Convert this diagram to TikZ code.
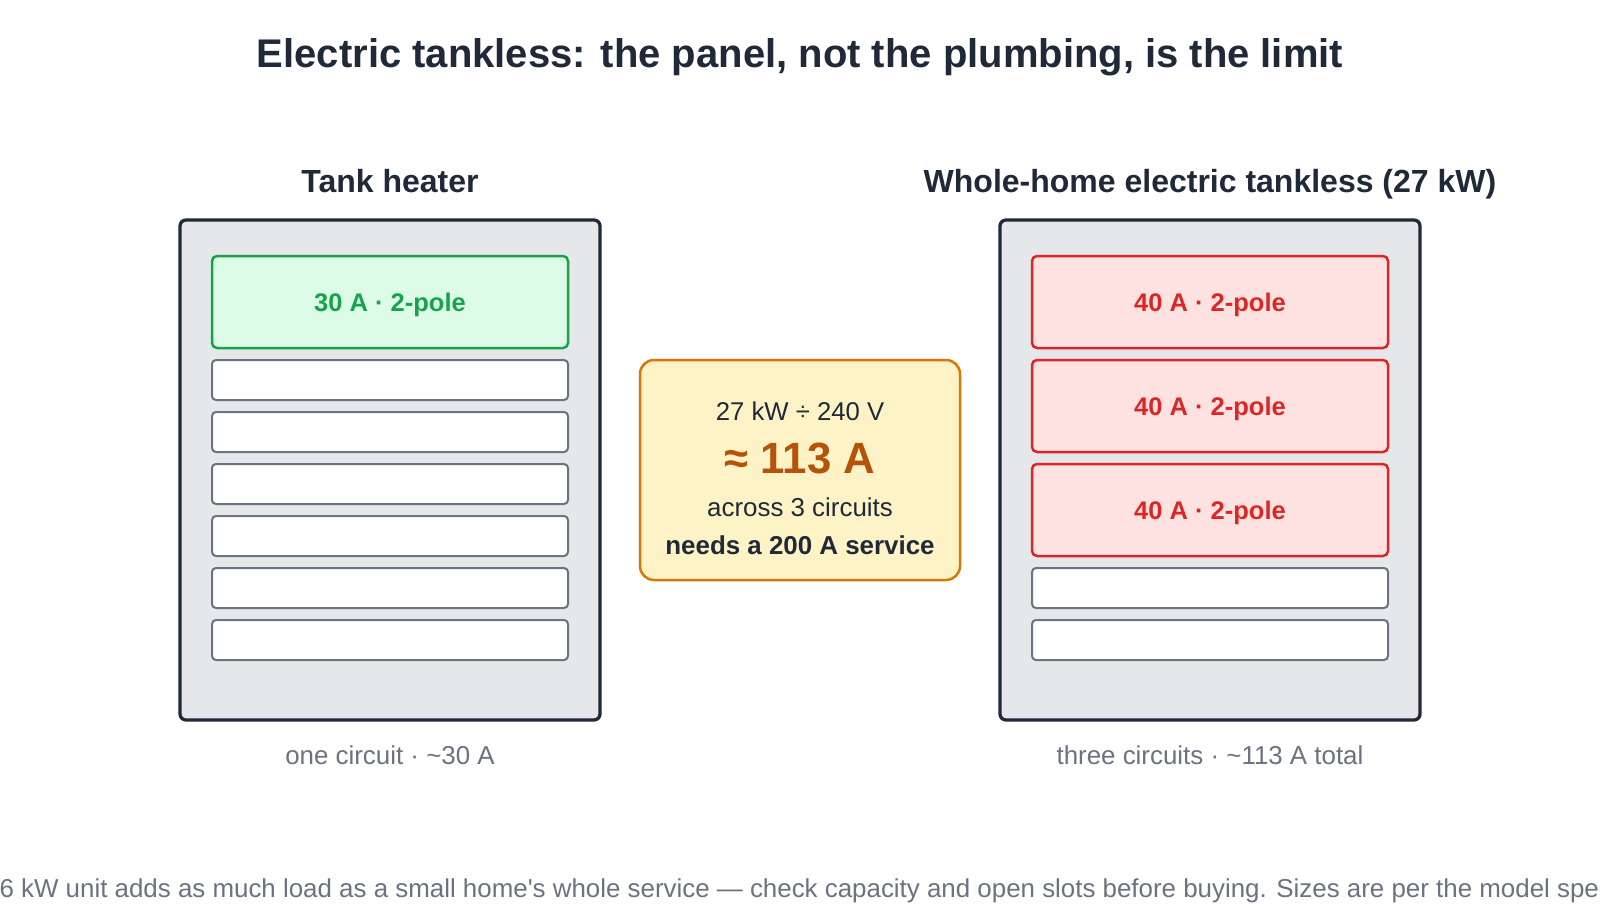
\documentclass[tikz,border=0pt]{standalone}
\usepackage{fontspec}
\setmainfont{Liberation Sans}
\definecolor{ink}{HTML}{1F2937}
\definecolor{panelgray}{HTML}{E5E7EB}
\definecolor{slotline}{HTML}{6B7280}
\definecolor{okline}{HTML}{16A34A}
\definecolor{okfill}{HTML}{DCFCE7}
\definecolor{hotline}{HTML}{DC2626}
\definecolor{hotfill}{HTML}{FEE2E2}
\definecolor{calcline}{HTML}{D97706}
\definecolor{calcfill}{HTML}{FEF3C7}
\definecolor{calctext}{HTML}{B45309}
\tikzset{
  panel/.style={draw=ink, line width=3.3pt, fill=panelgray, rounded corners=6pt,
    minimum width=420pt, minimum height=500pt, inner sep=0pt},
  slot/.style={draw=slotline, line width=2pt, fill=white, rounded corners=4pt,
    minimum width=356pt, minimum height=40pt, inner sep=0pt},
  okpole/.style={draw=okline, line width=2.5pt, fill=okfill, text=okline, rounded corners=5pt,
    minimum width=356pt, minimum height=92pt, inner sep=0pt, text depth=0pt,
    font=\bfseries\fontsize{25.5}{30}\selectfont},
  hotpole/.style={okpole, draw=hotline, fill=hotfill, text=hotline},
  calcbox/.style={draw=calcline, line width=2.5pt, fill=calcfill, rounded corners=14pt,
    minimum width=320pt, minimum height=220pt, inner sep=0pt},
  heading/.style={anchor=base, text=ink, font=\bfseries\fontsize{32}{38}\selectfont},
  caption/.style={anchor=base, text=slotline, font=\fontsize{25.9}{30}\selectfont},
}
\begin{document}
\begin{tikzpicture}[x=1pt, y=-1pt]
  \useasboundingbox (0,0) rectangle (1600,920);
  \fill[white] (0,0) rectangle (1600,920);
  \clip (0,0) rectangle (1600,920);

  \node[anchor=base, text=ink, font=\bfseries\fontsize{40}{48}\selectfont] (title) at (800,68)
    {Electric tankless: the panel, not the plumbing, is the limit};

  % tank heater panel
  \node[heading] (tankhead) at (390,193) {Tank heater};
  \node[panel] (tankpanel) at (390,470) {};
  \node[okpole] (T1) at (390,302) {30 A · 2-pole};
  \node[slot] (T2) at (390,380) {};
  \node[slot] (T3) at (390,432) {};
  \node[slot] (T4) at (390,484) {};
  \node[slot] (T5) at (390,536) {};
  \node[slot] (T6) at (390,588) {};
  \node[slot] (T7) at (390,640) {};
  \node[caption] (tankcap) at (390,764) {one circuit · \textasciitilde30 A};

  % tankless panel
  \node[heading] (lesshead) at (1210,193) {Whole-home electric tankless (27 kW)};
  \node[panel] (lesspanel) at (1210,470) {};
  \node[hotpole] (W1) at (1210,302) {40 A · 2-pole};
  \node[hotpole] (W2) at (1210,406) {40 A · 2-pole};
  \node[hotpole] (W3) at (1210,510) {40 A · 2-pole};
  \node[slot] (W4) at (1210,588) {};
  \node[slot] (W5) at (1210,640) {};
  \node[caption] (lesscap) at (1210,764) {three circuits · \textasciitilde113 A total};

  % the arithmetic in the middle
  \node[calcbox] (calc) at (800,470) {};
  \node[anchor=base, text=ink, font=\fontsize{25.7}{30}\selectfont] (calc1) at (800,420) {27 kW ÷ 240 V};
  \node[anchor=base, text=calctext, font=\bfseries\fontsize{43.8}{50}\selectfont] (calc2) at (800,473) {≈ 113 A};
  \node[anchor=base, text=ink, font=\fontsize{25.9}{30}\selectfont] (calc3) at (800,516) {across 3 circuits};
  \node[anchor=base, text=ink, font=\bfseries\fontsize{25.9}{30}\selectfont] (calc4) at (800,554) {needs a 200 A service};

  \node[anchor=base west, text=slotline, font=\fontsize{25.9}{30}\selectfont] (foot) at (-4,897)
    {6 kW unit adds as much load as a small home\textquotesingle s whole service — check capacity and open slots before buying. Sizes are per the model spec};
\end{tikzpicture}
\end{document}
